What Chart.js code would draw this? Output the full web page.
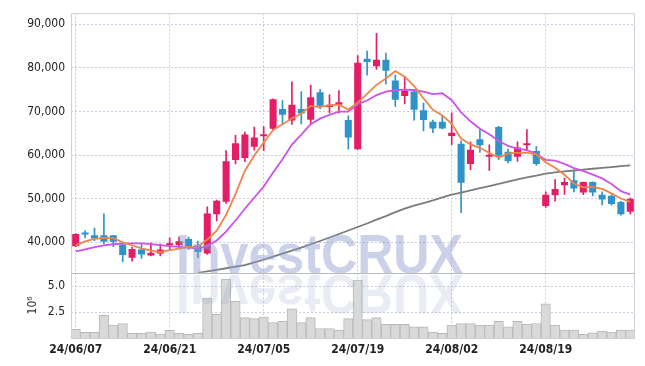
<!DOCTYPE html>
<html>
<head>
<meta charset="utf-8">
<script src="https://cdn.jsdelivr.net/npm/chart.js@4.4.1/dist/chart.umd.min.js"></script>
<style>
  html, body { margin: 0; padding: 0; background: #fff; }
</style>
</head>
<body>
<canvas id="chart" width="645" height="366"></canvas>
<script>
const dates = ['24/06/07','24/06/10','24/06/11','24/06/12','24/06/13','24/06/14','24/06/17','24/06/18','24/06/19','24/06/20',
  '24/06/21','24/06/24','24/06/25','24/06/26','24/06/27','24/06/28','24/07/01','24/07/02','24/07/03','24/07/04',
  '24/07/05','24/07/08','24/07/09','24/07/10','24/07/11','24/07/12','24/07/15','24/07/16','24/07/17','24/07/18',
  '24/07/19','24/07/22','24/07/23','24/07/24','24/07/25','24/07/26','24/07/29','24/07/30','24/07/31','24/08/01',
  '24/08/02','24/08/05','24/08/06','24/08/07','24/08/08','24/08/09','24/08/12','24/08/13','24/08/14','24/08/16',
  '24/08/19','24/08/20','24/08/21','24/08/22','24/08/23','24/08/26','24/08/27','24/08/28','24/08/29','24/08/30'];

const open = [39100, 41900, 41600, 41600, 41600, 39500, 36450, 38350, 37000, 37450,
  39300, 39300, 40750, 39300, 37450, 46400, 49300, 58850, 59300, 61900,
  64300, 66000, 70550, 67900, 70550, 68100, 74400, 71000, 71500, 68000,
  61350, 82050, 80350, 81850, 77050, 73550, 74550, 70250, 67600, 67600,
  64350, 62600, 57950, 63600, 59600, 66400, 60750, 59600, 62250, 60950,
  48300, 50800, 53050, 54200, 51400, 53800, 50900, 50650, 49250, 47000];
const high = [42000, 42650, 43250, 46500, 41600, 39600, 38900, 39600, 39850, 39600,
  41000, 41200, 41200, 40250, 48150, 49650, 61000, 64500, 65250, 66400,
  66500, 72900, 72500, 76800, 74550, 76050, 75050, 73800, 74750, 69000,
  82800, 83800, 87900, 83350, 78300, 77950, 74900, 71900, 68000, 68900,
  69650, 63250, 63050, 65850, 62350, 66600, 61350, 63000, 65850, 61950,
  51550, 54350, 54700, 56450, 53800, 53850, 51550, 50800, 49400, 50200];
const low = [39000, 41000, 40400, 39600, 39000, 35500, 35700, 36300, 36850, 36850,
  38350, 38700, 38350, 36450, 37200, 44900, 48900, 57950, 58500, 61100,
  61000, 65800, 67000, 67000, 67150, 67000, 70550, 69650, 69650, 61350,
  61300, 78300, 79600, 76250, 71150, 71700, 68000, 65500, 65100, 66000,
  62350, 46800, 56650, 60600, 56450, 58950, 58200, 58550, 61200, 57600,
  48000, 49450, 50950, 51550, 50900, 50600, 48550, 48500, 46200, 46500];
const close = [41900, 41800, 40850, 40100, 40100, 37100, 38450, 37200, 37600, 38350,
  39450, 40250, 39100, 37800, 46600, 49500, 58550, 62700, 64700, 64000,
  64400, 72800, 69250, 71500, 69500, 73250, 71300, 71500, 72100, 64000,
  81150, 81300, 81850, 79300, 72650, 74750, 70400, 68000, 66100, 66100,
  65100, 53650, 61200, 62250, 60050, 59850, 58550, 61700, 62600, 57950,
  50900, 52200, 53800, 52300, 53800, 51400, 49800, 48750, 46400, 49900];

// volume in millions of shares
const volume = [0.83, 0.54, 0.54, 2.19, 1.24, 1.40, 0.45, 0.45, 0.57, 0.38,
  0.73, 0.45, 0.35, 0.45, 3.87, 2.29, 5.69, 3.55, 1.97, 1.87,
  2.03, 1.49, 1.62, 2.83, 1.49, 1.97, 0.92, 0.92, 0.76, 1.87,
  5.59, 1.78, 1.97, 1.33, 1.33, 1.33, 1.08, 1.08, 0.57, 0.45,
  1.24, 1.40, 1.40, 1.24, 1.24, 1.62, 1.08, 1.62, 1.33, 1.40,
  3.30, 1.24, 0.76, 0.76, 0.35, 0.51, 0.67, 0.57, 0.76, 0.76];

const ma5 = [39300, 40200, 40800, 41000, 40950, 39990, 39320, 38590, 38090, 37740,
  38210, 38570, 38950, 38990, 40640, 42650, 46310, 51030, 56410, 59890,
  62870, 65720, 67030, 68390, 69490, 71260, 70960, 71410, 71530, 70430,
  72010, 74010, 76080, 77520, 79250, 77970, 75790, 73020, 70380, 69070,
  67140, 63790, 62430, 61660, 60450, 59400, 60380, 60490, 60550, 60130,
  58340, 57070, 55490, 53430, 52600, 52700, 52220, 51210, 50030, 49250];
const ma10 = [37900, 38400, 38900, 39300, 39550, 39700, 39750, 39750, 39600, 39345,
  39100, 38945, 38770, 38540, 39190, 40430, 42440, 44990, 47700, 50265,
  52760, 56015, 59030, 62400, 64690, 67065, 68340, 69220, 69960, 69960,
  71635, 72485, 73745, 74525, 74840, 74990, 74900, 74550, 73950, 74160,
  72555, 69790, 67725, 66020, 64760, 63270, 62085, 61455, 61105, 60290,
  58870, 58725, 57985, 56990, 56365, 55520, 54645, 53350, 51730, 50925];
const ma60 = [null, null, null, null, null, null, null, null, null, null,
  null, null, null, 33000, 33350, 33700, 34050, 34400, 34750, 35400,
  36000, 36700, 37400, 38100, 38800, 39550, 40300, 41100, 41900, 42700,
  43500, 44300, 45200, 46000, 46900, 47700, 48400, 49000, 49600, 50300,
  50900, 51400, 51900, 52400, 52900, 53400, 53900, 54400, 54900, 55300,
  55750, 56000, 56250, 56450, 56650, 56850, 57050, 57250, 57450, 57650];

const priceTicks = [40000, 50000, 60000, 70000, 80000, 90000];
const volTicks = [2.5, 5.0];

const UP = '#e31e66';
const DOWN = '#2f93c9';
const candleColor = open.map((o, i) => close[i] >= o ? UP : DOWN);
const FONT = '"DejaVu Sans Condensed", "DejaVu Sans", sans-serif';
const GRID = '#c9cbe0';

// frame, separator and volume unit label
const framePlugin = {
  id: 'frame',
  afterDraw(chart) {
    const { ctx, chartArea: a, scales } = chart;
    ctx.save();
    ctx.strokeStyle = '#cfcfd6';
    ctx.lineWidth = 1;
    ctx.strokeRect(a.left + 0.5, a.top + 0.5, a.right - a.left - 1, a.bottom - a.top);
    ctx.strokeStyle = '#b8b8c0';
    ctx.beginPath();
    ctx.moveTo(a.left, Math.round(scales.y.bottom) + 0.5);
    ctx.lineTo(a.right, Math.round(scales.y.bottom) + 0.5);
    ctx.stroke();
    ctx.fillStyle = '#333';
    ctx.font = '12px ' + FONT;
    ctx.translate(33, (scales.yVol.top + scales.yVol.bottom) / 2);
    ctx.rotate(-Math.PI / 2);
    ctx.textAlign = 'center';
    ctx.textBaseline = 'middle';
    ctx.fillText('10\u2076', 0, 0);
    ctx.restore();
  }
};

// InvestCRUX watermark with its mirror image
const watermarkPlugin = {
  id: 'watermark',
  afterDatasetsDraw(chart) {
    const { ctx, scales } = chart;
    const base = scales.y.bottom;
    const text = 'InvestCRUX';
    ctx.save();
    ctx.font = 'bold 56px "Liberation Sans", Arial, sans-serif';
    const w = ctx.measureText(text).width;
    const sx = 287 / w;
    ctx.save();
    ctx.translate(176, base);
    ctx.scale(sx, 1);
    ctx.fillStyle = 'rgba(140,152,205,0.45)';
    ctx.fillText(text, 0, 0);
    ctx.restore();
    ctx.save();
    ctx.translate(176, base + 2);
    ctx.scale(sx, -1);
    ctx.fillStyle = 'rgba(150,160,205,0.2)';
    ctx.fillText(text, 0, 0);
    ctx.restore();
    ctx.restore();
  }
};

new Chart(document.getElementById('chart'), {
  data: {
    labels: dates,
    datasets: [
      { type: 'line', label: 'MA5', data: ma5, yAxisID: 'y', borderColor: '#ef8448', borderWidth: 1.8,
        pointRadius: 0, tension: 0, order: 0 },
      { type: 'line', label: 'MA10', data: ma10, yAxisID: 'y', borderColor: '#cc52ea', borderWidth: 1.8,
        pointRadius: 0, tension: 0, order: 1 },
      { type: 'line', label: 'MA60', data: ma60, yAxisID: 'y', borderColor: '#7c7c7c', borderWidth: 1.8,
        pointRadius: 0, tension: 0, order: 2 },
      { type: 'bar', label: 'body', data: open.map((o, i) => [o, close[i]]), yAxisID: 'y',
        backgroundColor: candleColor, grouped: false, barPercentage: 0.75, categoryPercentage: 1,
        minBarLength: 2, order: 3 },
      { type: 'bar', label: 'wick', data: low.map((l, i) => [l, high[i]]), yAxisID: 'y',
        backgroundColor: candleColor, grouped: false, barThickness: 1, order: 4 },
      { type: 'bar', label: 'volume', data: volume, yAxisID: 'yVol',
        backgroundColor: '#d9d9d9', borderColor: '#b9b9b9', borderWidth: 1,
        grouped: false, barPercentage: 1, categoryPercentage: 1, order: 5 }
    ]
  },
  options: {
    responsive: false,
    animation: false,
    layout: { padding: { top: 9, right: 10, left: 0, bottom: 0 } },
    plugins: { legend: { display: false }, tooltip: { enabled: false } },
    scales: {
      x: {
        type: 'category',
        offset: true,
        afterFit: s => { s.height = 28; },
        grid: {
          offset: false,
          drawTicks: false,
          color: c => c.index % 10 === 0 ? GRID : 'rgba(0,0,0,0)'
        },
        border: { display: false, dash: [2, 2] },
        ticks: {
          autoSkip: false, maxRotation: 0, padding: 5, color: '#222',
          font: { family: FONT, size: 12, weight: 'bold' },
          callback: (v, i) => i % 10 === 0 ? dates[i] : ''
        }
      },
      yVol: {
        position: 'left', stack: 'panes', stackWeight: 66,
        min: 0, max: 6.3,
        afterFit: s => { s.width = 71; },
        afterBuildTicks: s => { s.ticks = volTicks.map(v => ({ value: v })); },
        grid: { drawTicks: false, color: GRID },
        border: { display: false, dash: [2, 2] },
        ticks: { padding: 6, color: '#222', font: { family: FONT, size: 12 }, callback: v => v.toFixed(1) }
      },
      y: {
        position: 'left', stack: 'panes', stackWeight: 263,
        min: 33000, max: 92500,
        afterFit: s => { s.width = 71; },
        afterBuildTicks: s => { s.ticks = priceTicks.map(v => ({ value: v })); },
        grid: { drawTicks: false, color: GRID },
        border: { display: false, dash: [2, 2] },
        ticks: { padding: 6, color: '#222', font: { family: FONT, size: 12 },
          callback: v => v.toLocaleString('en-US') }
      }
    }
  },
  plugins: [framePlugin, watermarkPlugin]
});
</script>
</body>
</html>
